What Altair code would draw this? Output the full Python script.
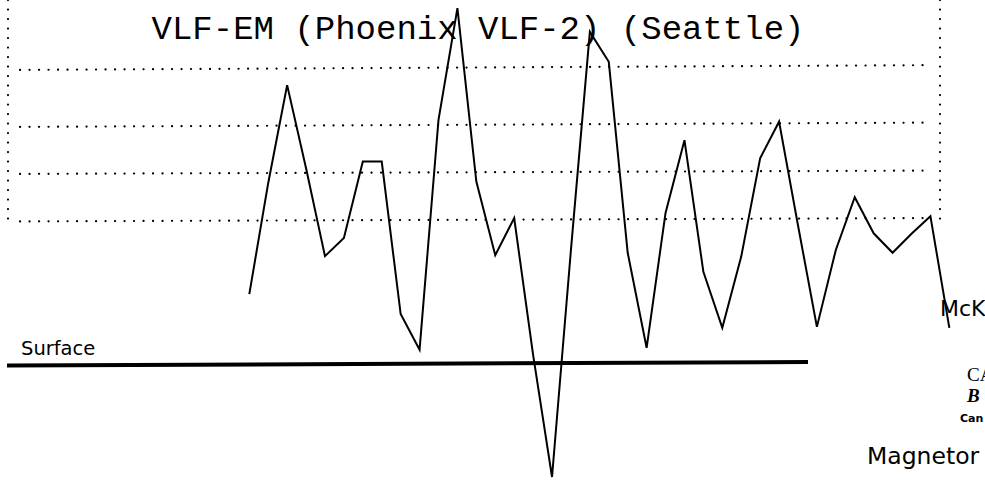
import altair as alt
import pandas as pd

# ---------------- data ----------------
# survey stations (m) and VLF-EM readings (arbitrary %, 0 = lowest grid line)
station_m = [0, 25, 50, 75, 100, 125, 150, 175, 200, 225,
             250, 275, 300, 325, 350, 375, 400, 425, 450, 475,
             500, 525, 550, 575, 600, 625, 650, 675, 700, 725,
             750, 775, 800, 825, 850, 875, 900, 925]
reading = [-15.6, 7.8, 28.4, 10.9, -7.6, -3.8, 12.3, 12.3, -19.8, -27.3,
           21.1, 44.6, 8.1, -7.4, 0.4, -28.4, -54.1, -6.3, 39.6, 33.3,
           -6.9, -26.9, 1.5, 16.8, -10.9, -22.7, -7.7, 13.0, 20.7, -1.1,
           -22.5, -6.3, 4.8, -2.8, -6.9, -2.9, 0.8, -22.7]

# dotted grid levels (left end / right end, the scan is slightly tilted)
grid_left = [-0.3, 9.7, 19.6, 31.6]
grid_right = [0.4, 10.4, 20.5, 32.6]

TITLE = "VLF-EM (Phoenix VLF-2) (Seattle)"
SURFACE_LABEL = "Surface"
side_labels = ["McK", "CA", "B", "Can", "Magnetor"]

# ---------------- layout ----------------
W, H = 985, 480
PX_PER_M = 0.7568          # horizontal pixels per metre
X0_PX = 249.3              # pixel of station 0
PX_PER_UNIT = 4.75         # vertical pixels per reading unit
Y0_PX = 220.0              # pixel of reading 0

xscale = alt.Scale(domain=[-X0_PX / PX_PER_M, (W - X0_PX) / PX_PER_M],
                   nice=False, zero=False)
yscale = alt.Scale(domain=[(Y0_PX - H) / PX_PER_UNIT, Y0_PX / PX_PER_UNIT],
                   nice=False, zero=False)

one = alt.Data(values=[{"d": 0}])

dot_style = dict(color="black", strokeWidth=2.2, strokeCap="round",
                 strokeDash=[0.1, 9.4])


def vrule(x, y, y2):
    return alt.Chart(one).mark_rule(**dot_style).encode(
        x=alt.value(x), y=alt.value(y), y2=alt.value(y2))


frame_left = vrule(8, 0, 222)
frame_right = vrule(940, 0, 219)

grid_df = pd.DataFrame({"left": grid_left, "right": grid_right})
grid = alt.Chart(grid_df).mark_rule(**dot_style).encode(
    x=alt.value(20), x2=alt.value(928),
    y=alt.Y("left:Q", scale=yscale, axis=None),
    y2="right:Q",
)

surface = alt.Chart(one).mark_rule(color="black", strokeWidth=4).encode(
    x=alt.value(7), x2=alt.value(808), y=alt.value(365.5), y2=alt.value(362))

line_df = pd.DataFrame({"station": station_m, "reading": reading})
profile = alt.Chart(line_df).mark_line(color="black", strokeWidth=2).encode(
    x=alt.X("station:Q", scale=xscale, axis=None),
    y=alt.Y("reading:Q", scale=yscale, axis=None),
    order="station:Q",
)


def label(text, x, y, **kw):
    return alt.Chart(one).mark_text(text=text, align="left",
                                    baseline="alphabetic", color="black",
                                    **kw).encode(x=alt.value(x), y=alt.value(y))


title = alt.Chart(one).mark_text(
    text=TITLE, font="Liberation Mono", fontSize=34, align="center",
    baseline="alphabetic", color="black").encode(
    x=alt.value(478), y=alt.value(38.5))

surf_lbl = label(SURFACE_LABEL, 21, 355, font="DejaVu Sans", fontSize=19.5)
mck = label(side_labels[0], 940, 316, font="DejaVu Sans", fontSize=22)
ca = label(side_labels[1], 967, 380.5, font="Liberation Serif", fontSize=19)
b = label(side_labels[2], 967, 402, font="Liberation Serif", fontSize=19,
          fontStyle="italic", fontWeight="bold")
can = label(side_labels[3], 960, 422, font="DejaVu Sans", fontSize=11,
            fontWeight="bold")
mag = label(side_labels[4], 867, 464, font="DejaVu Sans", fontSize=23.5)

chart = alt.layer(
    frame_left, frame_right, grid, surface, profile,
    title, surf_lbl, mck, ca, b, can, mag,
).properties(
    width=W, height=H, autosize=alt.AutoSizeParams(type="none"), padding=0,
    background="white",
).configure_view(strokeWidth=0)

chart.save("out.html", embed_options={"renderer": "svg", "actions": False})
